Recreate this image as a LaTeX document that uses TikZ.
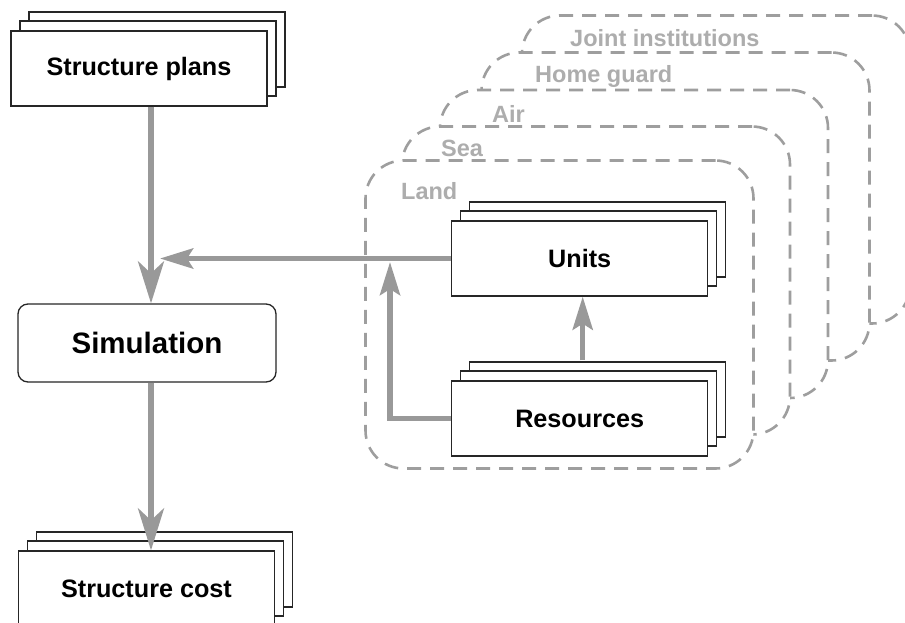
\documentclass[tikz,border=0pt]{standalone}
\usepackage{fontspec}
\setmainfont{Liberation Sans}
\usetikzlibrary{arrows.meta,shadows,calc}

\definecolor{flowgray}{gray}{0.6}
\definecolor{layergray}{gray}{0.62}
\definecolor{labelgray}{gray}{0.68}

\begin{document}
\begin{tikzpicture}[
    x=1pt, y=-1pt,
    font=\fontsize{25.2}{29}\selectfont\bfseries,
    stack/.style={draw=black!85, fill=white, line width=1.3pt,
        minimum width=256pt, minimum height=75pt, inner sep=0pt,
        copy shadow={shadow xshift=18pt, shadow yshift=19pt, draw=black!85, line width=1.3pt},
        copy shadow={shadow xshift=9pt, shadow yshift=10pt, draw=black!85, line width=1.3pt}},
    process/.style={draw=black!85, fill=white, line width=1.3pt, rounded corners=10pt,
        minimum width=258pt, minimum height=78pt, inner sep=0pt,
        font=\fontsize{29.5}{34}\selectfont\bfseries},
    layer/.style={draw=layergray, fill=white, line width=2.6pt, dash pattern=on 14pt off 9pt,
        rounded corners=38pt, minimum width=388pt, minimum height=308pt, inner sep=0pt},
    layerlabel/.style={anchor=base west, inner sep=0pt, text=labelgray,
        font=\fontsize{23.5}{28}\selectfont\bfseries},
    flow/.style={draw=flowgray, line width=5.5pt, -{Stealth[length=42pt, width=26pt, inset=12pt]}},
    flowshort/.style={draw=flowgray, line width=5.5pt, -{Stealth[length=33pt, width=20pt, inset=6pt]}}
]
\useasboundingbox (0,0) rectangle (905,623);

% Layers, back to front
\node[layer] (joint) at (716,169.5) {};
\node[layerlabel] (jointlbl) at (570,47) {Joint institutions};
\node[layer] (home) at (675.5,206.5) {};
\node[layerlabel] (homelbl) at (535,83) {Home guard};
\node[layer] (air) at (634,244) {};
\node[layerlabel] (airlbl) at (492,123) {Air};
\node[layer] (sea) at (596,280.5) {};
\node[layerlabel] (sealbl) at (441,157) {Sea};
\node[layer] (land) at (559.5,314.5) {};
\node[layerlabel] (landlbl) at (401,200) {Land};

% Documents and process
\node[stack] (plans) at (139,68.5) {Structure plans};
\node[process] (sim) at (147,343) {Simulation};
\node[stack] (cost) at (146.5,588.5) {Structure cost};
\node[stack] (units) at (579.7,258.5) {Units};
\node[stack] (res) at (579.7,418.5) {Resources};

\coordinate (simin) at ([xshift=4pt]sim.north);
\coordinate (bend) at (390,262);

% Flows
\draw[flow] (plans.south -| simin) -- (simin);
\draw[flow] (sim.south -| simin) -- (cost.north -| simin);
\draw[flowshort, shorten >=9pt] (units.west) -- (units.west -| simin);
\draw[flowshort] ([xshift=3pt, yshift=20pt]res.north) -- ([xshift=3pt]units.south);
\draw[flowshort] (res.west) -| (bend);
\end{tikzpicture}
\end{document}
